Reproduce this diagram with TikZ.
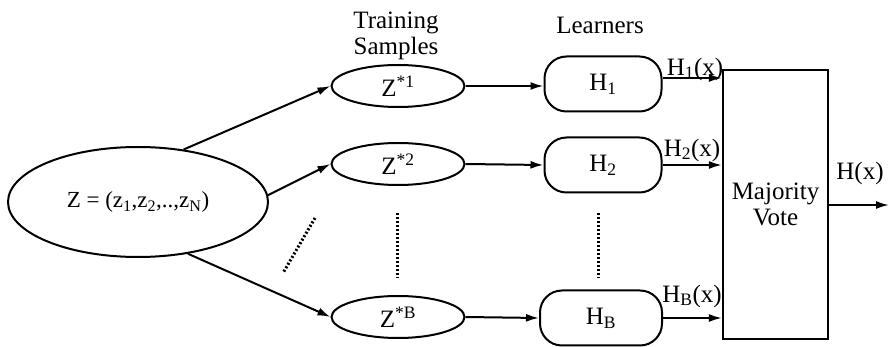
\documentclass[tikz,border=0pt]{standalone}
\usepackage{fontspec}
\setmainfont{Liberation Serif}
\usetikzlibrary{shapes.geometric,arrows.meta}
\begin{document}
\begin{tikzpicture}[x=1pt,y=-1pt,
  txt/.style={font=\fontsize{25}{26}\selectfont, inner sep=0pt},
  ell/.style={draw, ellipse, line width=2pt, inner sep=0pt, font=\fontsize{25}{26}\selectfont},
  learner/.style={draw, rounded corners=22pt, line width=2pt, minimum width=117pt, minimum height=55pt, inner sep=0pt, font=\fontsize{25}{26}\selectfont},
  arr/.style={line width=2pt, -{Latex[length=13pt,width=8pt]}},
  dots/.style={line width=3pt, dash pattern=on 2pt off 2pt}
]
\useasboundingbox (0,0) rectangle (889,347);
\node[ell, minimum width=260pt, minimum height=110pt, font=\fontsize{23}{24}\selectfont] (Z) at (138,202) {Z = (z\textsubscript{1},z\textsubscript{2},..,z\textsubscript{N})};
\node[ell, minimum width=133pt, minimum height=42pt] (S1) at (398,86) {Z\textsuperscript{*1}};
\node[ell, minimum width=133pt, minimum height=42pt] (S2) at (398,164) {Z\textsuperscript{*2}};
\node[ell, minimum width=133pt, minimum height=42pt] (SB) at (398,317) {Z\textsuperscript{*B}};
\node[learner] (H1) at (603,84) {H\textsubscript{1}};
\node[learner] (H2) at (603,165) {H\textsubscript{2}};
\node[learner, minimum width=122pt] (HB) at (601,318) {H\textsubscript{B}};
\node[draw, line width=2.2pt, minimum width=105pt, minimum height=269pt, inner sep=0pt] (MV) at (775.5,204.5) {};
\node[txt, align=center] (mvt) at (MV.center) {Majority\\Vote};
\node[txt, align=center] (ts) at (396,36) {Training\\Samples};
\node[txt] (lr) at (600,25) {Learners};
\node[txt] (l1) at (695,69) {H\textsubscript{1}(x)};
\node[txt] (l2) at (692,150) {H\textsubscript{2}(x)};
\node[txt] (lB) at (692,296) {H\textsubscript{B}(x)};
\node[txt] (lo) at (860,173) {H(x)};
\coordinate (out) at (889,205);
\draw[arr] (Z.49) -- (S1.west);
\draw[arr] (Z.3) -- (S2.west);
\draw[arr] (Z.-46) -- (SB.west);
\draw[arr] (S1.east) -- (H1.west |- S1.east);
\draw[arr] (S2.east) -- (H2.west);
\draw[arr] (SB.east) -- (HB.west);
\draw[arr] ([yshift=6pt]H1.east) -- ([yshift=6pt]H1.east -| MV.west);
\draw[arr] (H2.east) -- (H2.east -| MV.west);
\draw[arr] (HB.east) -- (HB.east -| MV.west);
\draw[arr] (MV.east |- out) -- (out);
\coordinate (d1) at (315,218);
\coordinate (d2) at (283,273);
\draw[dots] (d1) -- (d2);
\coordinate (v1) at (397,213);
\coordinate (v2) at (397,278);
\draw[dots] (v1) -- (v2);
\coordinate (w1) at (598,213);
\coordinate (w2) at (598,278);
\draw[dots] (w1) -- (w2);
\end{tikzpicture}
\end{document}
